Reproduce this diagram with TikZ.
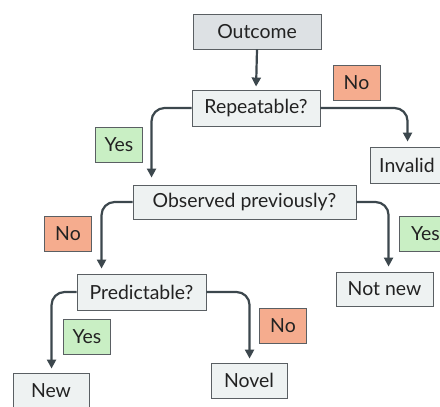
\documentclass[tikz,border=0pt]{standalone}
\usepackage{fontspec}
\setmainfont{Lato}
\usetikzlibrary{arrows.meta,calc}
\definecolor{boxfill}{HTML}{EEF2F2}
\definecolor{topfill}{HTML}{DDE1E4}
\definecolor{boxline}{HTML}{5A5F63}
\definecolor{arrowcol}{HTML}{3C474D}
\definecolor{yesfill}{HTML}{C9EFC4}
\definecolor{nofill}{HTML}{F5AC8E}
\definecolor{txt}{HTML}{222222}
\begin{document}
\begin{tikzpicture}[x=1bp,y=-1bp,
  box/.style={draw=boxline,line width=0.9bp,fill=boxfill,text=txt,inner sep=0pt,font=\fontsize{19.5}{22}\selectfont},
  yesbox/.style={box,fill=yesfill,minimum width=47bp,minimum height=35bp},
  nobox/.style={box,fill=nofill,minimum width=47bp,minimum height=35bp},
  conn/.style={draw=arrowcol,line width=2.2bp,rounded corners=13bp,-{Triangle[length=9bp,width=9bp]}}]
\useasboundingbox (0,0) rectangle (440,406);
\clip (0,0) rectangle (440,406);
\node[box,fill=topfill,minimum width=128bp,minimum height=35bp] (out) at (257,31.5) {Outcome};
\node[box,minimum width=128bp,minimum height=36bp] (rep) at (256,108) {Repeatable?};
\node[box,minimum width=80bp,minimum height=36bp] (inv) at (410,165) {\hspace*{-6bp}Invalid};
\node[box,minimum width=223bp,minimum height=34bp] (obs) at (244.5,202) {Observed previously?};
\node[box,minimum width=97bp,minimum height=34bp] (notnew) at (384.5,289) {Not new};
\node[box,minimum width=129bp,minimum height=36bp] (pred) at (141.5,292) {Predictable?};
\node[box,minimum width=76bp,minimum height=36bp] (new) at (51,391) {New};
\node[box,minimum width=76bp,minimum height=35bp] (novel) at (249,380.5) {Novel};
\node[nobox] (no1) at (356.5,83) {No};
\node[yesbox] (yes1) at (119,144.5) {Yes};
\node[nobox] (no2) at (68,234) {No};
\node[yesbox] (yes2) at (422.5,233.5) {\hspace*{6bp}Yes};
\node[yesbox] (yes3) at (87,337) {Yes};
\node[nobox] (no3) at (283,325.5) {No};
\draw[conn,shorten >=3bp] (out.south) -- (rep.north);
\draw[conn,shorten >=7bp] (rep.west) -| ($(obs.north west)+(19,0)$);
\draw[conn,shorten >=5bp] (rep.east) -| ($(inv.north west)+(38,0)$);
\draw[conn,shorten >=5bp] (obs.west) -| ($(pred.north west)+(25,0)$);
\draw[conn,shorten >=5bp] (obs.east) -| ($(notnew.north west)+(53,0)$);
\draw[conn,shorten >=4bp] (pred.west) -| ($(new.north west)+(39,0)$);
\draw[conn,shorten >=4bp] (pred.east) -| ($(novel.north west)+(39,0)$);
\end{tikzpicture}
\end{document}
